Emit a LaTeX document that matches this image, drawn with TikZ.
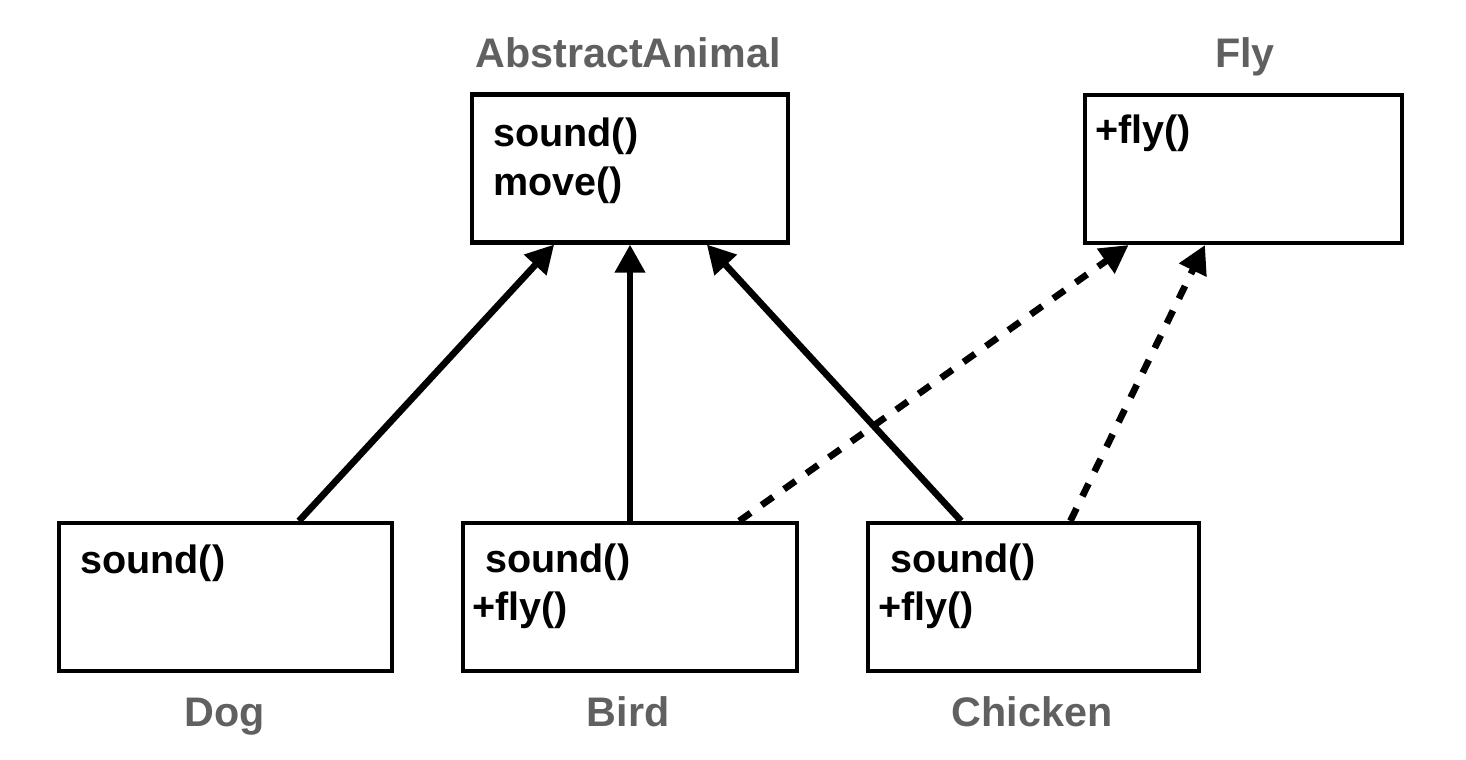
\documentclass[tikz,border=0pt]{standalone}
\usepackage{fontspec}
\setmainfont{Liberation Sans}
\usetikzlibrary{arrows.meta, positioning, calc}
\definecolor{labelgray}{RGB}{96, 96, 96}

\tikzset{
  classbox/.style={draw, line width=2.3pt, minimum width=#1*0.02cm, minimum height=148*0.02cm, inner sep=0pt},
  member/.style={anchor=base west, inner sep=0pt, font=\fontsize{22.5}{27}\selectfont\bfseries},
  classname/.style={anchor=base, inner sep=0pt, text=labelgray, font=\fontsize{23.5}{28}\selectfont\bfseries},
  inherit/.style={line width=3.8pt, -{Triangle[length=0.56cm, width=0.58cm]}},
  realize/.style={inherit, dash pattern=on 0.28cm off 0.27cm}
}

\begin{document}
\begin{tikzpicture}[x=0.02cm, y=-0.02cm]
  \useasboundingbox (0,0) rectangle (1466,760);

  % Abstract base class
  \node[classbox=316] (animal) at (630,168.5) {};
  \node[classname] (animalname) at (628,68) {AbstractAnimal};
  \node[member] (animalsound) at (493,147) {sound()};
  \node[member] (animalmove) at (493,195) {move()};

  % Interface
  \node[classbox=317] (fly) at (1243.5,169) {};
  \node[classname] (flyname) at (1245,68) {Fly};
  \node[member] (flyfly) at (1095,144) {+fly()};

  % Subclasses
  \node[classbox=333] (dog) at (225.5,597) {};
  \node[classname] (dogname) at (225,726) {Dog};
  \node[member] (dogsound) at (80,573) {sound()};

  \node[classbox=334] (bird) at (630,597) {};
  \node[classname] (birdname) at (628,726) {Bird};
  \node[member] (birdsound) at (485,572) {sound()};
  \node[member] (birdfly) at (472,620) {+fly()};

  \node[classbox=331] (chicken) at (1033.5,597) {};
  \node[classname] (chickenname) at (1032,726) {Chicken};
  \node[member] (chickensound) at (890,572) {sound()};
  \node[member] (chickenfly) at (878,620) {+fly()};

  % Inheritance
  \draw[inherit] ($(dog.north west)!0.718!(dog.north east)$) -- ($(animal.south west)!0.263!(animal.south east)$);
  \draw[inherit] (bird.north) -- (animal.south);
  \draw[inherit] ($(chicken.north west)!0.284!(chicken.north east)$) -- ($(animal.south west)!0.74!(animal.south east)$);

  % Interface realization
  \draw[realize] ($(bird.north west)!0.823!(bird.north east)$) -- ($(fly.south west)!0.142!(fly.south east)$);
  \draw[realize] ($(chicken.north west)!0.61!(chicken.north east)$) -- ($(fly.south west)!0.38!(fly.south east)$);

\end{tikzpicture}
\end{document}
